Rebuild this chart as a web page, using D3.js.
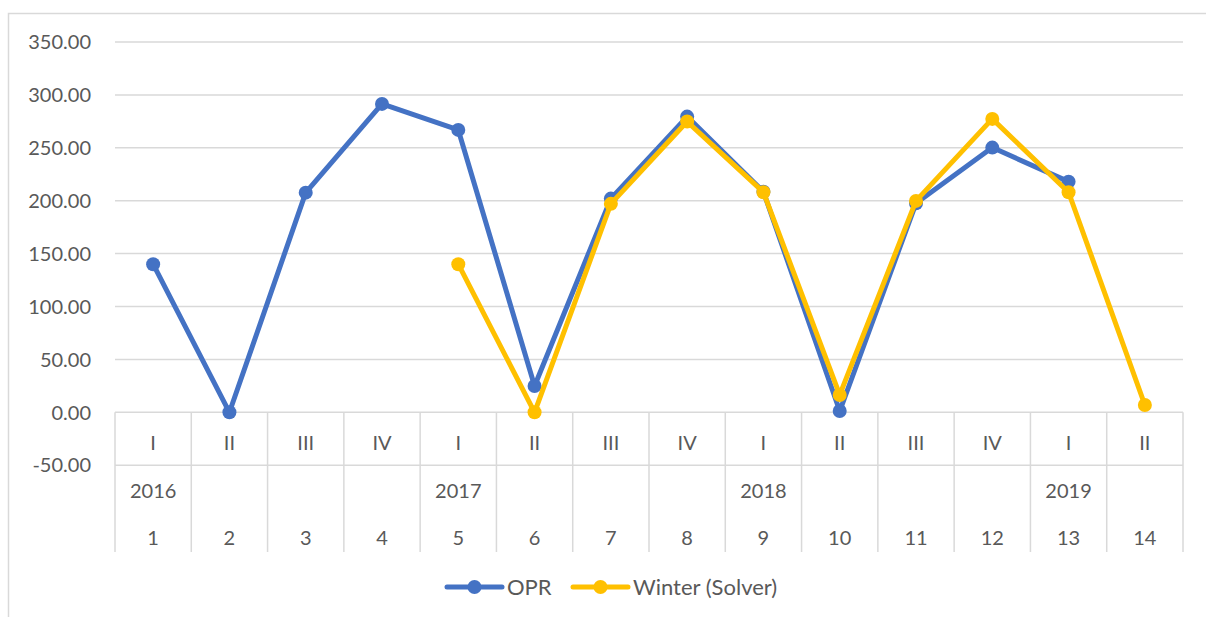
<!DOCTYPE html>
<html lang="en">
<head>
    <meta charset="UTF-8">
    <title>OPR vs Winter</title>
    <script src="https://cdn.jsdelivr.net/npm/d3@7"></script>
    <style>
        body { margin: 0; background: #fff; }
        text { font-family: Lato, "Open Sans", sans-serif; fill: #595959; font-size: 20px; }
        .legend text { font-size: 22px; }
    </style>
</head>
<body>
<svg id="chart" width="1206" height="617"></svg>
<script>
    // data
    const periods  = [1, 2, 3, 4, 5, 6, 7, 8, 9, 10, 11, 12, 13, 14];
    const quarters = ["I", "II", "III", "IV", "I", "II", "III", "IV", "I", "II", "III", "IV", "I", "II"];
    const years    = ["2016", "", "", "", "2017", "", "", "", "2018", "", "", "", "2019", ""];
    const opr      = [140, 0, 207.6, 291.5, 266.9, 24.9, 202, 279.5, 208.5, 1.2, 197.5, 250.2, 218, null];
    const winter   = [null, null, null, null, 140, 0, 197, 274.8, 208, 16.4, 199.8, 277.3, 208, 6.9];
    const yTicks   = [-50, 0, 50, 100, 150, 200, 250, 300, 350];

    const series = [
        {name: "OPR", values: opr, colour: "#4472C4"},
        {name: "Winter (Solver)", values: winter, colour: "#FFC000"}
    ];

    let svg = d3.select('svg#chart');
    const grid = "#D9D9D9";

    // outer chart border (runs off the right and bottom of the picture)
    svg.append('rect')
        .attr('x', 8.5).attr('y', 13.5)
        .attr('width', 1300).attr('height', 700)
        .attr('fill', 'none').attr('stroke', grid).attr('stroke-width', 1.5);

    let xScale = d3.scaleBand().domain(periods).range([115, 1183]);
    let yScale = d3.scaleLinear().domain([-50, 350]).range([465.2, 42]);

    // horizontal gridlines
    svg.append('g').selectAll('line')
        .data(yTicks.filter(d => d >= 0))
        .enter().append('line')
        .attr('x1', 115).attr('x2', 1183)
        .attr('y1', d => yScale(d)).attr('y2', d => yScale(d))
        .attr('stroke', grid).attr('stroke-width', 1.5);

    // y labels (plain hyphen for the minus sign, like the original)
    svg.append('g').selectAll('text')
        .data(yTicks)
        .enter().append('text')
        .attr('x', 91)
        .attr('y', d => yScale(d))
        .attr('dy', '0.36em')
        .attr('text-anchor', 'end')
        .text(d => d.toFixed(2));

    // multi-level category table under the zero line
    let rowTop = yScale(0), rowMid = yScale(-50), rowBottom = 552;
    let table = svg.append('g');
    table.append('line')
        .attr('x1', 115).attr('x2', 1183).attr('y1', rowMid).attr('y2', rowMid)
        .attr('stroke', grid).attr('stroke-width', 1.5);
    let bounds = periods.map(p => xScale(p)).concat([xScale.range()[1]]);
    table.selectAll('line.sep')
        .data(bounds)
        .enter().append('line')
        .attr('class', 'sep')
        .attr('x1', d => d).attr('x2', d => d)
        .attr('y1', rowTop).attr('y2', rowBottom)
        .attr('stroke', grid).attr('stroke-width', 1.5);

    let cx = p => xScale(p) + xScale.bandwidth() / 2;
    table.selectAll('text.q')
        .data(periods).enter().append('text')
        .attr('x', cx).attr('y', 443).attr('dy', '0.36em')
        .attr('text-anchor', 'middle')
        .text((d, i) => quarters[i]);
    table.selectAll('text.y')
        .data(periods).enter().append('text')
        .attr('x', cx).attr('y', 491).attr('dy', '0.36em')
        .attr('text-anchor', 'middle')
        .text((d, i) => years[i]);
    table.selectAll('text.n')
        .data(periods).enter().append('text')
        .attr('x', cx).attr('y', 538).attr('dy', '0.36em')
        .attr('text-anchor', 'middle')
        .text(d => d);

    // lines and markers
    let line = d3.line()
        .defined(d => d.v != null)
        .x(d => cx(d.p))
        .y(d => yScale(d.v));

    series.forEach(function (s) {
        let pts = periods.map((p, i) => ({p: p, v: s.values[i]}));
        let g = svg.append('g');
        g.append('path')
            .attr('d', line(pts))
            .attr('fill', 'none')
            .attr('stroke', s.colour)
            .attr('stroke-width', 5)
            .attr('stroke-linejoin', 'round');
        g.selectAll('circle')
            .data(pts.filter(d => d.v != null))
            .enter().append('circle')
            .attr('cx', d => cx(d.p))
            .attr('cy', d => yScale(d.v))
            .attr('r', 7)
            .attr('fill', s.colour);
    });

    // legend
    let legendY = 587;
    let legendX = [447, 573];
    let legend = svg.append('g').attr('class', 'legend');
    series.forEach(function (s, i) {
        let x0 = legendX[i];
        legend.append('line')
            .attr('x1', x0).attr('x2', x0 + 55)
            .attr('y1', legendY).attr('y2', legendY)
            .attr('stroke', s.colour).attr('stroke-width', 5)
            .attr('stroke-linecap', 'round');
        legend.append('circle')
            .attr('cx', x0 + 27.5).attr('cy', legendY).attr('r', 7)
            .attr('fill', s.colour);
        legend.append('text')
            .attr('x', x0 + 60).attr('y', legendY).attr('dy', '0.36em')
            .text(s.name);
    });
</script>
</body>
</html>
